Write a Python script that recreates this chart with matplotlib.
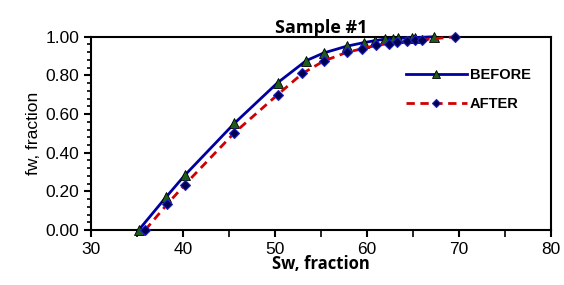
import matplotlib.pyplot as plt
from matplotlib.ticker import MultipleLocator

# Sample #1 fractional flow data
sw_before = [35.2, 38.2, 40.2, 45.6, 50.3, 53.4, 55.3, 57.8, 59.7, 60.9, 62.0, 62.9, 63.4, 64.9, 65.3, 67.3]
fw_before = [0.0, 0.172, 0.283, 0.552, 0.762, 0.876, 0.916, 0.951, 0.970, 0.980, 0.988, 0.990, 0.992, 0.995, 0.996, 1.0]

sw_after = [35.9, 38.3, 40.2, 45.6, 50.3, 53.0, 55.3, 57.8, 59.5, 61.0, 62.4, 63.3, 64.4, 65.3, 66.0, 69.6]
fw_after = [0.0, 0.134, 0.234, 0.503, 0.700, 0.810, 0.874, 0.919, 0.938, 0.955, 0.965, 0.974, 0.979, 0.983, 0.984, 1.0]

fig = plt.figure(figsize=(5.64, 2.85), dpi=100)
ax = fig.add_axes([0.1613, 0.193, 0.815, 0.678])

ax.plot(sw_before, fw_before, '-', color='#0000A0', lw=2, clip_on=False, zorder=3,
        marker='^', ms=6.5, mfc='#1E5C1E', mec='black', mew=0.6, label='BEFORE')
ax.plot(sw_after, fw_after, '--', color='#D00000', lw=2, dashes=(3, 2), clip_on=False, zorder=3,
        marker='D', ms=4.8, mfc='#000050', mec='#2020C0', mew=0.8, label='AFTER')

ax.set_xlim(30, 80)
ax.set_ylim(0, 1)
ax.xaxis.set_major_locator(MultipleLocator(10))
ax.xaxis.set_minor_locator(MultipleLocator(5))
ax.yaxis.set_major_locator(MultipleLocator(0.2))
ax.yaxis.set_minor_locator(MultipleLocator(0.04))
ax.yaxis.set_major_formatter(lambda v, p: f"{v:.2f}")
ax.tick_params(which='major', direction='out', length=5, width=1.5, labelsize=12.5)
ax.tick_params(which='minor', direction='out', length=3, width=1.2)
ax.tick_params(axis='x', which='minor', length=5)
for t in ax.get_xticklabels() + ax.get_yticklabels():
    t.set_fontfamily('Liberation Sans')
for s in ax.spines.values():
    s.set_linewidth(1.5)

ax.set_title('Sample #1', fontsize=13, fontweight='bold', family='Open Sans', pad=1)
ax.set_xlabel('Sw, fraction', fontsize=12, fontweight='bold', family='Open Sans', labelpad=-1)
ax.set_ylabel('fw, fraction', fontsize=12.5, family='Liberation Sans', labelpad=3)

leg = ax.legend(loc='upper right', bbox_to_anchor=(0.985, 0.905), frameon=False,
                prop={'family': 'Liberation Sans', 'weight': 'bold', 'size': 10.5},
                handlelength=4.2, labelspacing=1.0, handletextpad=0.2, markerscale=0.85)

fig.savefig('out.png', dpi=100)
